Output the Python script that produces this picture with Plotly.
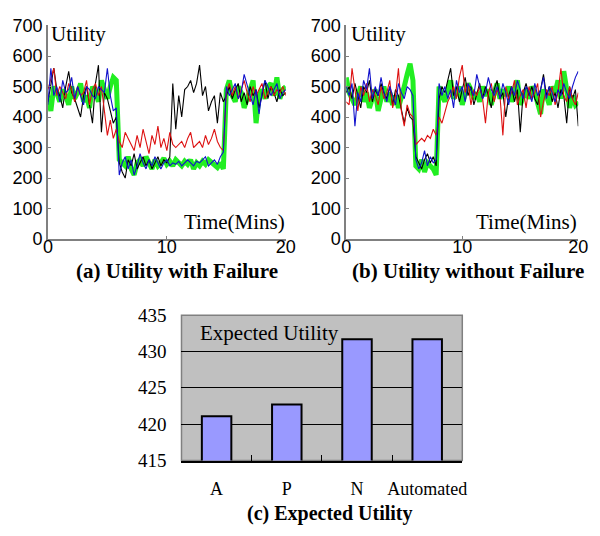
import plotly.graph_objects as go

# ---------------- data ----------------
# time step 0.25 min, 0..20 (81 samples)
a_green = [470, 420, 500, 480, 450, 490, 470, 440, 500, 460, 480, 510, 450, 470, 430, 500, 480, 450, 520, 490, 460, 500, 530, 520,
           260, 250, 240, 270, 230, 210, 250, 260, 240, 270, 250, 230, 260, 240, 250, 265, 245, 255, 240, 260, 250, 240, 255, 245, 260, 230, 250, 240, 255, 245, 260, 250, 240, 235, 250, 230,
           490, 520, 470, 450, 500, 480, 430, 460, 500, 520, 380, 470, 490, 460, 500, 510, 470, 530, 460, 490, 500]
a_black = [450, 500, 560, 490, 470, 430, 500, 550, 480, 460, 430, 400, 470, 500, 440, 380, 510, 570, 350, 480, 460, 420, 380, 400,
           250, 220, 200, 260, 240, 280, 230, 250, 270, 240, 260, 230, 250, 270, 240, 260, 250, 270,
           510, 360, 470, 400, 490, 500, 520, 480, 510, 570, 470, 500, 420, 450, 470, 380, 480, 450,
           470, 500, 460, 490, 510, 450, 480, 440, 500, 470, 490, 430, 470, 520, 460, 500, 480, 450, 490, 470, 480]
a_red = [490, 530, 560, 470, 500, 480, 460, 510, 490, 450, 500, 470, 480, 520, 440, 490, 510, 470, 500, 420, 340, 390, 330, 360,
         320, 300, 350, 330, 310, 290, 340, 300, 360, 320, 280, 340, 310, 370, 300, 330, 290, 350, 310, 300, 310, 320, 300, 330, 350, 300, 310, 320, 300, 340, 310, 330, 360, 320, 300, 290,
         480, 510, 470, 500, 460, 490, 520, 480, 450, 500, 470, 490, 510, 460, 480, 500, 470, 490, 480, 500, 470]
a_blue = [440, 560, 470, 500, 450, 520, 480, 490, 530, 460, 500, 470, 440, 500, 490, 470, 460, 500, 490, 480, 560, 470, 420, 430,
          210, 250, 270, 230, 260, 210, 240, 280, 250, 230, 260, 240, 270, 250, 230, 250, 260, 240, 250, 245, 255, 240, 250, 260, 250, 240, 255, 250, 260, 270, 240, 250, 260, 245, 270, 285,
          500, 470, 490, 510, 460, 480, 540, 500, 470, 440, 490, 410, 480, 520, 500, 470, 490, 510, 460, 480, 490]

b_green = [530, 480, 460, 440, 470, 500, 450, 480, 430, 460, 490, 420, 470, 500, 450, 480, 440, 470, 430, 460, 500, 540, 575, 520,
           240, 230, 260, 220, 250, 240, 230, 210,
           500, 470, 450, 490, 520, 460, 480, 500, 440, 470, 510, 490, 460, 480, 450, 500, 470, 490, 440, 480, 510, 460, 490, 470, 500, 450, 480, 520, 440, 470, 490, 460, 500, 480, 450, 410, 490, 470, 440, 500, 480, 520, 460, 550, 490, 430, 470, 440, 450]
b_black = [480, 500, 460, 510, 470, 430, 500, 480, 520, 450, 490, 470, 510, 480, 460, 500, 440, 490, 470, 420, 380, 430, 400, 390,
           270, 250, 230, 260, 280, 250, 270, 240,
           460, 500, 480, 520, 560, 470, 500, 450, 490, 530, 470, 500, 440, 480, 510, 460, 500, 470, 430, 490, 520, 460, 480, 400, 470, 500, 450, 490, 350, 480, 510, 470, 500, 460, 440, 490, 540, 470, 500, 450, 480, 430, 490, 470, 380, 500, 460, 490, 370]
b_red = [450, 440, 560, 480, 420, 500, 470, 510, 450, 490, 470, 440, 500, 460, 480, 520, 430, 470, 560, 420, 370, 440, 410, 400,
         310, 320, 330, 320, 340, 330, 360, 340,
         400, 380, 420, 450, 470, 500, 460, 530, 570, 480, 510, 440, 490, 470, 500, 460, 380, 480, 510, 450, 490, 470, 340, 500, 460, 480, 520, 440, 470, 490, 430, 500, 460, 480, 510, 400, 450, 490, 470, 500, 440, 480, 560, 470, 450, 500, 460, 440, 480]
b_blue = [500, 470, 510, 370, 480, 450, 520, 490, 560, 460, 500, 470, 530, 480, 450, 500, 470, 440, 510, 480, 460, 500, 490, 470,
          260, 230, 250, 290, 240, 270, 250, 260,
          510, 470, 500, 460, 490, 430, 520, 480, 500, 450, 510, 490, 470, 540, 500, 460, 480, 530, 490, 470, 500, 460, 510, 480, 440, 500, 470, 520, 490, 460, 500, 480, 450, 510, 470, 490, 530, 460, 500, 480, 450, 490, 470, 510, 480, 460, 500, 530, 550]

categories = ["A", "P", "N", "Automated"]
expected_utility = [421.1, 422.7, 431.7, 431.7]

time_step = 0.25

series_a = [a_green, a_black, a_red, a_blue]
series_b = [b_green, b_black, b_red, b_blue]
for s in series_a + series_b:
    assert len(s) == 81, len(s)

colors = ["#22ee22", "#000000", "#dd1111", "#1111cc"]
widths = [5, 1.1, 1.1, 1.1]

fig = go.Figure()
for s, c, w in zip(series_a, colors, widths):
    fig.add_trace(go.Scatter(x=[i * time_step for i in range(len(s))], y=s, mode="lines",
                             line=dict(color=c, width=w), xaxis="x", yaxis="y", showlegend=False))
for s, c, w in zip(series_b, colors, widths):
    fig.add_trace(go.Scatter(x=[i * time_step for i in range(len(s))], y=s, mode="lines",
                             line=dict(color=c, width=w), xaxis="x2", yaxis="y2", showlegend=False))

fig.add_trace(go.Bar(x=categories, y=expected_utility,
                     marker=dict(color="#9999ff", line=dict(color="black", width=2)),
                     width=0.42, xaxis="x3", yaxis="y3", showlegend=False))

sans = "Liberation Sans"
serif = "Liberation Serif"

line_axis = dict(range=[0, 20], tickvals=[0, 10, 20], showgrid=False, zeroline=False,
                 showline=True, linecolor="#808080", linewidth=1.5, ticks="inside", ticklen=3,
                 tickcolor="#808080", ticklabelstandoff=-9,
                 tickfont=dict(family=sans, size=18, color="black"))
line_yaxis = dict(range=[0, 700], dtick=100, showgrid=False, zeroline=False,
                  showline=True, linecolor="#808080", linewidth=1.5, ticks="inside", ticklen=3,
                  tickcolor="#808080", tickfont=dict(family=sans, size=18, color="black"))

fig.update_layout(
    width=600, height=536,
    margin=dict(l=0, r=0, t=0, b=0),
    paper_bgcolor="white", plot_bgcolor="white",
    xaxis=dict(line_axis, domain=[0.0733, 0.48], anchor="y"),
    yaxis=dict(line_yaxis, domain=[0.556, 0.970], anchor="x"),
    xaxis2=dict(line_axis, domain=[0.5833, 0.98], anchor="y2"),
    yaxis2=dict(line_yaxis, domain=[0.556, 0.970], anchor="x2"),
    xaxis3=dict(domain=[0.3017, 0.7817], anchor="y3", range=[-0.5, 3.5], showgrid=False,
                showline=True, linecolor="black", linewidth=1.5, ticks="inside", ticklen=6,
                tickson="boundaries", tickcolor="black", ticklabelstandoff=11, tickangle=0,
                automargin=False, tickfont=dict(family=serif, size=18, color="black")),
    yaxis3=dict(domain=[0.1269, 0.4086], anchor="x3", range=[415, 435], dtick=5,
                showgrid=True, gridcolor="black", gridwidth=1, zeroline=False,
                showline=False, ticks="", ticklabelstandoff=14, automargin=False,
                tickfont=dict(family=serif, size=19, color="black")),
    shapes=[dict(type="rect", xref="x3 domain", yref="y3 domain", x0=0, x1=1, y0=0, y1=1,
                 fillcolor="#c0c0c0", line=dict(color="#808080", width=1.5), layer="below")],
    annotations=[
        dict(text="Utility", x=0.075, y=0.953, xref="paper", yref="paper", xanchor="left", yanchor="middle",
             showarrow=False, font=dict(family=serif, size=21, color="black")),
        dict(text="Utility", x=0.588, y=0.953, xref="paper", yref="paper", xanchor="left", yanchor="middle",
             showarrow=False, font=dict(family=serif, size=21, color="black")),
        dict(text="Time(Mins)", x=0.482, y=0.5896, xref="paper", yref="paper", xanchor="right", yanchor="middle",
             showarrow=False, font=dict(family=serif, size=21, color="black")),
        dict(text="Time(Mins)", x=0.982, y=0.5896, xref="paper", yref="paper", xanchor="right", yanchor="middle",
             showarrow=False, font=dict(family=serif, size=21, color="black")),
        dict(text="<b>(a) Utility with Failure</b>", x=0.294, y=0.494, xref="paper", yref="paper",
             xanchor="center", yanchor="middle", showarrow=False, font=dict(family=serif, size=21, color="black")),
        dict(text="<b>(b) Utility without Failure</b>", x=0.792, y=0.494, xref="paper", yref="paper",
             xanchor="center", yanchor="middle", showarrow=False, font=dict(family=serif, size=21, color="black")),
        dict(text="<b>(c) Expected Utility</b>", x=0.556, y=0.024, xref="paper", yref="paper",
             xanchor="center", yanchor="middle", showarrow=False, font=dict(family=serif, size=20, color="black")),
        dict(text="Expected Utility", x=0.33, y=0.375, xref="paper", yref="paper", xanchor="left", yanchor="middle",
             showarrow=False, font=dict(family=serif, size=21, color="black")),
    ],
)

fig.write_html("out.html")
